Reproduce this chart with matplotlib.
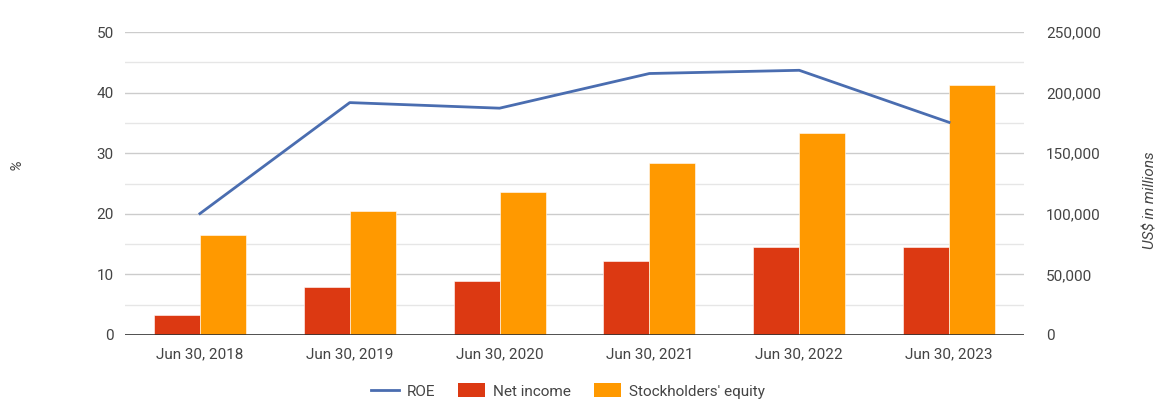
import matplotlib
matplotlib.use("Agg")
import matplotlib.pyplot as plt
from matplotlib.ticker import MultipleLocator, FuncFormatter
from matplotlib.lines import Line2D
from matplotlib.patches import Patch
import numpy as np

plt.rcParams['font.family'] = ['Roboto', 'DejaVu Sans']

categories = ["Jun 30, 2018", "Jun 30, 2019", "Jun 30, 2020",
              "Jun 30, 2021", "Jun 30, 2022", "Jun 30, 2023"]
roe = [20.03, 38.35, 37.43, 43.15, 43.68, 35.09]
net_income = [16571, 39240, 44281, 61271, 72738, 72361]
equity = [82718, 102330, 118304, 141988, 166542, 206223]

c_line = "#4a6db0"
c_red = "#dc3912"
c_orange = "#ff9900"
txt = "#444444"

W, H = 1165, 409
fig = plt.figure(figsize=(W/100, H/100), dpi=100)
ax2 = fig.add_axes([125/W, 1-335/H, (1024-125)/W, (335-32)/H])
ax = ax2.twinx()
ax.set_zorder(ax2.get_zorder() + 1)
ax.patch.set_visible(False)

x = np.arange(len(categories))
w = 0.307
ax2.bar(x - w/2, net_income, width=w, color=c_red, zorder=3,
        edgecolor='white', linewidth=0.4)
ax2.bar(x + w/2, equity, width=w, color=c_orange, zorder=3,
        edgecolor='white', linewidth=0.4)
ax2.set_ylim(0, 250000)
ax2.yaxis.set_major_locator(MultipleLocator(50000))
ax2.yaxis.set_minor_locator(MultipleLocator(25000))
ax2.grid(which='major', axis='y', color='#cccccc', linewidth=1, zorder=0)
ax2.grid(which='minor', axis='y', color='#e6e6e6', linewidth=1, zorder=0)
ax2.axhline(0, color='#333333', linewidth=1.2, zorder=4)
ax2.yaxis.tick_right()
ax2.yaxis.set_major_formatter(FuncFormatter(lambda v, p: f"{int(v):,}"))

ax.plot(x, roe, color=c_line, linewidth=2, zorder=5)
ax.set_ylim(0, 50)
ax.yaxis.set_major_locator(MultipleLocator(10))
ax.yaxis.tick_left()

ax2.set_xlim(-0.5, len(categories) - 0.5)
ax2.set_xticks(x)
ax2.set_xticklabels(categories)

for a in (ax, ax2):
    for s in a.spines.values():
        s.set_visible(False)
    a.tick_params(axis='both', which='both', length=0, labelsize=11, colors=txt)
ax2.tick_params(axis='x', pad=9)
ax2.tick_params(axis='y', pad=16)
ax.tick_params(axis='y', pad=8)

fig.text(17/W, 1-165/H, "%", rotation=90, style='italic', color=txt,
         fontsize=11, ha='center', va='center')
fig.text(1150/W, 1-200/H, "US$ in millions", rotation=90, style='italic',
         color=txt, fontsize=11, ha='center', va='center')

handles = [Line2D([0], [0], color=c_line, linewidth=2),
           Patch(facecolor=c_red), Patch(facecolor=c_orange)]
labels = ["ROE", "Net income", "Stockholders' equity"]
fig.legend(handles, labels, loc='center', bbox_to_anchor=(568/W, 1-391/H),
           ncol=3, frameon=False, fontsize=11, labelcolor=txt,
           handlelength=1.8, handleheight=1.0, columnspacing=1.5, handletextpad=0.5)

fig.savefig("out.png", dpi=100, facecolor='white')
